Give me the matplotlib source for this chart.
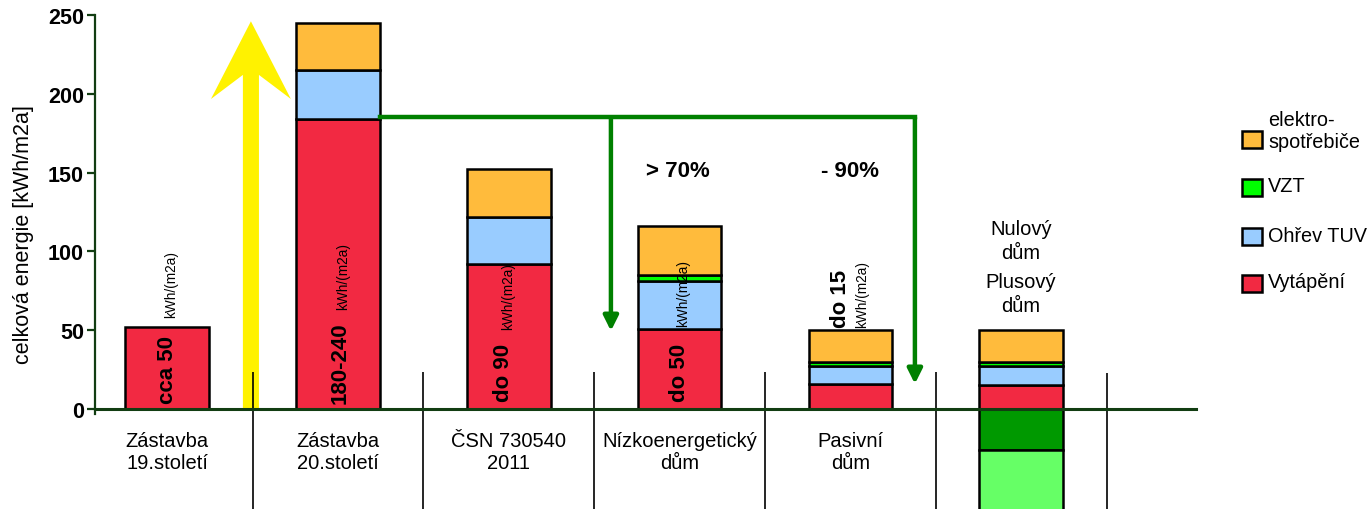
import numpy as np
import matplotlib
matplotlib.use('Agg')
import matplotlib.pyplot as plt
from matplotlib.patches import FancyArrow, Rectangle

plt.rcParams['font.family'] = ['Liberation Sans', 'DejaVu Sans']

# data (kWh/m2a)
categories = ['Zástavba\n19.století', 'Zástavba\n20.století', 'ČSN 730540\n2011',
              'Nízkoenergetický\ndům', 'Pasivní\ndům', '']
vytapeni = [52, 184, 92, 51, 16, 15]
ohrev_tuv = [0, 31, 30, 30, 11, 12]
vzt = [0, 0, 0, 4, 3, 3]
elektro = [0, 30, 30, 31, 20, 20]
vyroba_1 = [0, 0, 0, 0, 0, -26]
vyroba_2 = [0, 0, 0, 0, 0, -45]
big_labels = ['cca 50', '180-240', 'do 90', 'do 50', 'do 15']
yticks = [0, 50, 100, 150, 200, 250]

c_red = '#F22942'
c_blue = '#99CCFF'
c_vzt = '#00FF00'
c_orange = '#FFBB3C'
c_dkgreen = '#009900'
c_ltgreen = '#66FF66'
c_axis = '#123d12'
c_arrow = '#008000'

fig = plt.figure(figsize=(13.69, 5.10), dpi=100)
ax = fig.add_axes([95/1369, 0, (1196-95)/1369, 1-16/510])
ax.set_xlim(-0.423, 6.024)
ax.set_ylim(-63.5, 250)

x = np.arange(len(categories))
w = 0.49

# stacked bars, skip empty segments
bottom = np.zeros(len(x))
for vals, col in [(vytapeni, c_red), (ohrev_tuv, c_blue), (vzt, c_vzt), (elektro, c_orange)]:
    vals = np.array(vals, dtype=float)
    m = vals > 0
    ax.bar(x[m], vals[m], w, bottom=bottom[m], color=col, edgecolor='black', lw=1.8, zorder=3)
    bottom += vals
nb = np.zeros(len(x))
for vals, col in [(vyroba_1, c_dkgreen), (vyroba_2, c_ltgreen)]:
    vals = np.array(vals, dtype=float)
    m = vals < 0
    ax.bar(x[m], vals[m], w, bottom=nb[m], color=col, edgecolor='black', lw=1.8, zorder=3)
    nb += vals

# yellow arrow
ax.add_patch(FancyArrow(0.49, 0, 0, 246, width=0.094, head_width=0.468, head_length=49.3,
                        overhang=0.31, length_includes_head=True, color='#FFF200', lw=0, zorder=1))

# separators
ax.vlines(x[:-1] + 0.5, -70, 23.5, color='black', lw=1.2, zorder=2)
ax.vlines([5.5], -70, 22.5, color='black', lw=1.2, zorder=2)

# green arrows
ax.plot([1.246, 4.378], [185, 185], color=c_arrow, lw=3.2, solid_capstyle='projecting', zorder=4)
for xa, ya in [(2.598, 49.5), (4.378, 15.9)]:
    ax.annotate('', xy=(xa, ya), xytext=(xa, 185),
                arrowprops=dict(arrowstyle='-|>', color=c_arrow, lw=3.2, mutation_scale=22,
                                shrinkA=0, shrinkB=0), zorder=4)

ax.text(2.99, 151, '> 70%', ha='center', va='center', fontsize=16, fontweight='bold', zorder=5)
ax.text(4.0, 151, '- 90%', ha='center', va='center', fontsize=16, fontweight='bold', zorder=5)

# rotated value labels
big_pos = [(0.0, 4), (1.01, 4), (1.97, 5), (3.0, 5), (3.94, 52)]
unit_pos = [(0.02, 58.4), (1.03, 63.5), (1.995, 50.8), (3.02, 52.7), (4.07, 52)]
for lab, (bx, by), (ux, uy) in zip(big_labels, big_pos, unit_pos):
    ax.text(bx, by, lab, rotation=90, ha='center', va='bottom', fontsize=16,
            fontweight='bold', zorder=5)
    ax.text(ux, uy, 'kWh/(m2a)', rotation=90, ha='center', va='bottom', fontsize=9.8, zorder=5)

# category labels
for xi, lab in zip(x, categories):
    ax.text(xi, -27, lab, ha='center', va='center', fontsize=14.5, linespacing=1.2)
ax.text(5, 107.0, 'Nulový\ndům', ha='center', va='center', fontsize=14.5, linespacing=1.3)
ax.text(5, 73.4, 'Plusový\ndům', ha='center', va='center', fontsize=14.5, linespacing=1.3)

# axes styling
for s in ['top', 'right']:
    ax.spines[s].set_visible(False)
ax.spines['bottom'].set_position(('data', 0))
ax.spines['bottom'].set_color(c_axis)
ax.spines['bottom'].set_linewidth(2.2)
ax.spines['bottom'].set_zorder(3.5)
ax.spines['left'].set_color(c_axis)
ax.spines['left'].set_linewidth(1.6)
ax.spines['left'].set_bounds(-3, 250)
ax.set_xticks([])
ax.set_yticks(yticks)
ax.tick_params(axis='y', direction='out', length=6, width=1.6, color=c_axis, pad=2,
               labelsize=15.5)
for t in ax.get_yticklabels():
    t.set_fontweight('bold')
fig.text(24/1369, 1-235/510, 'celková energie [kWh/m2a]', rotation=90, ha='center',
         va='center', fontsize=15.5)

# legend
leg = [('elektro-', 'spotřebiče', c_orange, 140, 121, 143),
       ('VZT', None, c_vzt, 188, 187, None),
       ('Ohřev TUV', None, c_blue, 237, 237, None),
       ('Vytápění', None, c_red, 284, 283, None)]
for t1, t2, col, py, ty1, ty2 in leg:
    fig.add_artist(Rectangle((1242/1369, 1-(py+8.5)/510), 20/1369, 17/510, transform=fig.transFigure,
                             facecolor=col, edgecolor='black', lw=1.8))
    fig.text(1268/1369, 1-ty1/510, t1, ha='left', va='center', fontsize=14.3)
    if t2:
        fig.text(1268/1369, 1-ty2/510, t2, ha='left', va='center', fontsize=14.3)

fig.savefig('out.png', dpi=100)
